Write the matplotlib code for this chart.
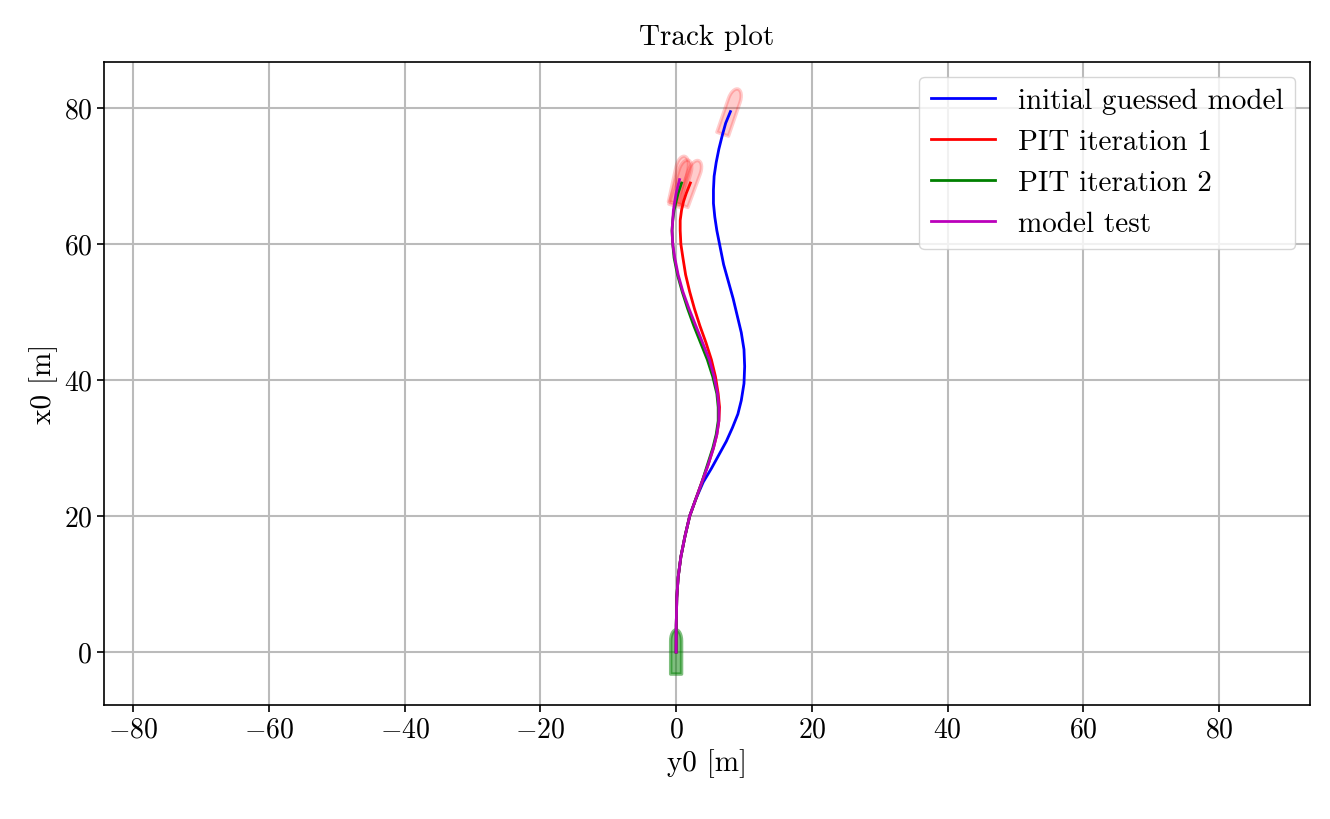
import numpy as np
import matplotlib
matplotlib.use("Agg")
import matplotlib.pyplot as plt
from matplotlib.patches import FancyBboxPatch, Polygon

plt.rcParams['font.family'] = ['cmr10', 'DejaVu Serif']
plt.rcParams['mathtext.fontset'] = 'cm'
plt.rcParams['axes.formatter.use_mathtext'] = True
plt.rcParams['font.size'] = 21

# tracks: (y0, x0)
blue_y = [0, 0.02, 0.1, 0.3, 0.7, 1.3, 2.0, 2.9, 4.0, 5.2, 6.3, 7.4, 8.3, 9.1, 9.6, 10.0, 10.1, 10.0, 9.6, 9.0, 8.4, 7.7, 7.0, 6.5, 6.0, 5.7, 5.5, 5.5, 5.6, 5.9, 6.3, 6.8, 7.3, 8.0]
blue_x = [0, 4, 8, 11, 14, 17, 20, 22.5, 25, 27, 29, 31, 33, 35, 37, 39.5, 42, 44.5, 47, 49.5, 52, 54.5, 57, 59.5, 62, 64, 66, 68, 70, 72, 74, 76, 77.8, 79.5]
red_y = [0, 0.02, 0.1, 0.3, 0.7, 1.3, 2.0, 2.9, 3.8, 4.7, 5.5, 6.0, 6.3, 6.4, 6.2, 5.8, 5.2, 4.4, 3.5, 2.7, 2.0, 1.4, 1.0, 0.7, 0.6, 0.6, 0.8, 1.1, 1.5, 2.1]
red_x = [0, 4, 8, 11, 14, 17, 20, 22.5, 25, 27.5, 30, 32, 34, 36, 38, 40.5, 43, 45.5, 48, 50.5, 53, 55.5, 58, 60, 62, 63.5, 65, 66.3, 67.5, 69]
green_y = [0, 0.02, 0.1, 0.3, 0.7, 1.3, 2.0, 2.9, 3.8, 4.6, 5.4, 5.9, 6.2, 6.2, 6.0, 5.4, 4.6, 3.6, 2.6, 1.7, 0.9, 0.2, -0.3, -0.5, -0.6, -0.5, -0.3, 0.0, 0.3, 0.8]
green_x = [0, 4, 8, 11, 14, 17, 20, 22.5, 25, 27.5, 30, 32, 34, 36, 38, 40.5, 43, 45.5, 48, 50.5, 53, 55.5, 58, 60, 62, 63.5, 65, 66.3, 67.5, 69]
mag_y = [0, 0.02, 0.1, 0.3, 0.7, 1.3, 2.0, 2.9, 3.8, 4.7, 5.5, 6.0, 6.3, 6.3, 6.1, 5.6, 4.9, 3.9, 2.9, 1.9, 1.0, 0.3, -0.2, -0.5, -0.6, -0.5, -0.4, -0.2, 0.0, 0.5]
mag_x = [0, 4, 8, 11, 14, 17, 20, 22.5, 25, 27.5, 30, 32, 34, 36, 38, 40.5, 43, 45.5, 48, 50.5, 53, 55.5, 58, 60, 62, 63.5, 65, 66.3, 67.5, 69.5]

def ship(ax, y, x, heading, color, alpha, L=7.0, B=1.8):
    t = np.linspace(-np.pi/2, np.pi/2, 15)
    bow = np.c_[L/4 + L/4*np.cos(t), B/2*np.sin(t)]
    pts = np.vstack([[[-L/2, -B/2]], bow, [[-L/2, B/2]]])
    c, s = np.cos(heading), np.sin(heading)
    xs = x + pts[:, 0]*c - pts[:, 1]*s
    ys = y + pts[:, 0]*s + pts[:, 1]*c
    ax.add_patch(Polygon(np.c_[ys, xs], closed=True, facecolor=color, edgecolor=color,
                         alpha=alpha, lw=2.5, joinstyle='round', zorder=1))

fig = plt.figure(figsize=(13.3, 8.19), dpi=100)
ax = fig.add_axes([104/1330, 1-705/819, (1310-104)/1330, (705-62)/819])
ax.grid(True, color='#bbbbbb', lw=1.5)
ax.set_axisbelow(True)

ax.plot(blue_y, blue_x, color='blue', lw=2, label='initial guessed model', zorder=3)
ax.plot(red_y, red_x, color='red', lw=2, label='PIT iteration 1', zorder=3)
ax.plot(green_y, green_x, color='green', lw=2, label='PIT iteration 2', zorder=3)
ax.plot(mag_y, mag_x, color='#bb00bb', lw=2, label='model test', zorder=3)

ship(ax, 0, 0, 0.0, 'green', 0.5, L=6.5, B=1.6)
for ty, tx in [(blue_y, blue_x), (red_y, red_x), (green_y, green_x), (mag_y, mag_x)]:
    h = np.arctan2(ty[-1]-ty[-3], tx[-1]-tx[-3])
    ship(ax, ty[-1], tx[-1], h, 'red', 0.2)

ax.set_xlim(-84.3, 93.4)
ax.set_ylim(-7.8, 86.8)
ax.set_xticks(range(-80, 81, 20))
ax.set_yticks(range(0, 81, 20))
ax.tick_params(labelsize=20, length=5, width=1.2)
ax.set_xlabel('y0 [m]', fontsize=21)
ax.set_ylabel('x0 [m]', fontsize=21)
ax.set_title('Track plot', fontsize=21, pad=12)
for sp in ax.spines.values():
    sp.set_linewidth(1.2)
ax.legend(loc='upper right', fontsize=21, framealpha=0.8, fancybox=True,
          borderaxespad=0.5, handlelength=2.2)
fig.savefig('out.png', dpi=100)
